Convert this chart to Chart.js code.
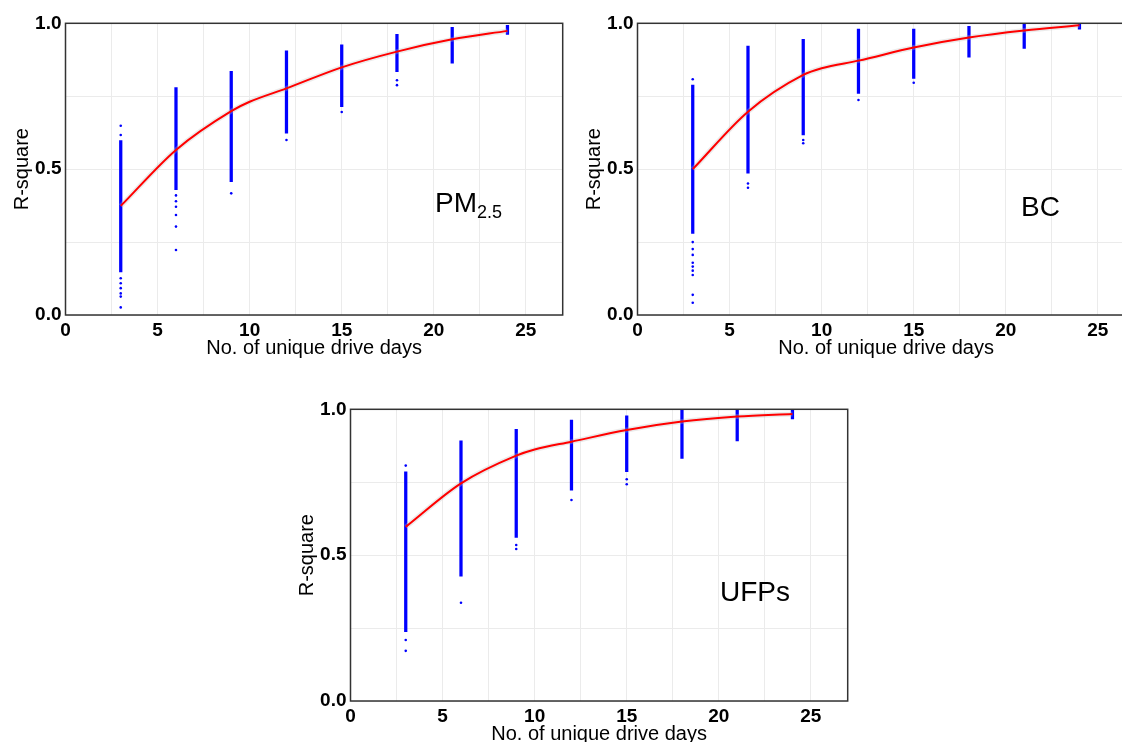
<!DOCTYPE html>
<html>
<head>
<meta charset="utf-8">
<script src="https://cdn.jsdelivr.net/npm/chart.js@4.4.1/dist/chart.umd.min.js"></script>
<style>
  html, body { margin: 0; padding: 0; background: #fff; width: 1122px; height: 742px; overflow: hidden; position: relative; }
  canvas { position: absolute; }
  .lbl { position: absolute; font-family: "Liberation Sans", Arial, sans-serif; font-size: 28px; line-height: 28px; color: #000; white-space: nowrap; }
  .lbl sub { font-size: 18px; line-height: 0; vertical-align: baseline; position: relative; top: 6px; }
</style>
</head>
<body>
<canvas id="cPM" width="580" height="370" style="left:0;top:0"></canvas>
<canvas id="cBC" width="580" height="370" style="left:572px;top:0"></canvas>
<canvas id="cUFP" width="580" height="370" style="left:285px;top:386px"></canvas>
<div class="lbl" style="left:435px;top:189px">PM<sub>2.5</sub></div>
<div class="lbl" style="left:1021px;top:193px">BC</div>
<div class="lbl" style="left:720px;top:578px">UFPs</div>
<script>
// days sampled (x of each blue column)
const dayCols = [3, 6, 9, 12, 15, 18, 21, 24];

// axis tick labels
const xTickVals = [0, 5, 10, 15, 20, 25];
const yTickVals = [0, 0.5, 1];
const yTickText = ['0.0', '0.5', '1.0'];

// PM2.5 : dense part of each column, stray points, fitted curve
const pmHigh = [0.598, 0.780, 0.835, 0.906, 0.926, 0.962, 0.986, 0.993];
const pmLow  = [0.148, 0.430, 0.457, 0.623, 0.714, 0.834, 0.863, 0.962];
const pmOut  = [[3, 0.649], [3, 0.617], [3, 0.126], [3, 0.109], [3, 0.092], [3, 0.074], [3, 0.063], [3, 0.026],
                [6, 0.410], [6, 0.390], [6, 0.371], [6, 0.343], [6, 0.303], [6, 0.223],
                [9, 0.417], [12, 0.600], [15, 0.696], [18, 0.805], [18, 0.788]];
const pmFitX = [3, 6, 9, 10, 12, 15, 18, 21, 24];
const pmFitY = [0.374, 0.566, 0.699, 0.731, 0.777, 0.849, 0.903, 0.945, 0.974];

// BC
const bcHigh = [0.788, 0.922, 0.945, 0.980, 0.980, 0.990, 1.000, 1.000];
const bcLow  = [0.280, 0.486, 0.617, 0.760, 0.811, 0.884, 0.914, 0.980];
const bcOut  = [[3, 0.808], [3, 0.250], [3, 0.226], [3, 0.206], [3, 0.179], [3, 0.166], [3, 0.152], [3, 0.137],
                [3, 0.069], [3, 0.042], [6, 0.451], [6, 0.436], [9, 0.600], [9, 0.589], [12, 0.737], [15, 0.796]];
const bcFitX = [3, 6, 9, 10, 12, 15, 18, 21, 24];
const bcFitY = [0.500, 0.697, 0.823, 0.846, 0.872, 0.917, 0.951, 0.975, 0.993];

// UFPs
const ufpHigh = [0.786, 0.892, 0.931, 0.963, 0.978, 0.998, 0.998, 0.998];
const ufpLow  = [0.238, 0.428, 0.561, 0.723, 0.786, 0.832, 0.892, 0.967];
const ufpOut  = [[3, 0.807], [3, 0.209], [3, 0.172], [6, 0.337], [9, 0.535], [9, 0.521],
                 [12, 0.689], [15, 0.760], [15, 0.743]];
const ufpFitX = [3, 6, 9, 10, 12, 15, 18, 21, 24];
const ufpFitY = [0.597, 0.746, 0.841, 0.862, 0.889, 0.929, 0.958, 0.975, 0.984];

const tickFont = { family: '"Liberation Sans", Arial, sans-serif', size: 19, weight: 'bold' };
const titleFont = { family: '"Liberation Sans", Arial, sans-serif', size: 20 };
const gridColor = '#ebebeb';

// dark frame round the plot area
const framePlugin = {
    id: 'frame',
    afterDraw(chart) {
        const { ctx, chartArea: a } = chart;
        ctx.save();
        ctx.strokeStyle = '#333';
        ctx.lineWidth = 1.5;
        ctx.strokeRect(a.left, a.top, a.right - a.left, a.bottom - a.top);
        ctx.restore();
    },
};

function makeChart(id, high, low, outliers, fitX, fitY) {
    const cols = dayCols.map((d, i) => ({ x: d, y: [low[i], high[i]] }));
    const pts = outliers.map((p) => ({ x: p[0], y: p[1] }));
    const fit = fitX.map((d, i) => ({ x: d, y: fitY[i] }));

    new Chart(document.getElementById(id), {
        type: 'bar',
        data: {
            datasets: [
                {
                    type: 'line',
                    data: fit,
                    borderColor: '#ff0000',
                    borderWidth: 2,
                    pointRadius: 0,
                    cubicInterpolationMode: 'monotone',
                    order: 0,
                },
                {
                    type: 'line',
                    data: fit,
                    borderColor: 'rgba(190,190,190,0.3)',
                    borderWidth: 5,
                    pointRadius: 0,
                    cubicInterpolationMode: 'monotone',
                    order: 1,
                },
                {
                    type: 'bar',
                    data: cols,
                    backgroundColor: '#0000ff',
                    barThickness: 2.6,
                    borderSkipped: false,
                    order: 2,
                },
                {
                    type: 'scatter',
                    data: pts,
                    pointRadius: 1.3,
                    pointBackgroundColor: '#0000ff',
                    pointBorderWidth: 0,
                    order: 2,
                },
            ],
        },
        options: {
            responsive: false,
            animation: false,
            events: [],
            layout: { padding: { left: 0, top: 23.3, right: 17.3, bottom: 10 } },
            plugins: { legend: { display: false }, tooltip: { enabled: false } },
            scales: {
                x: {
                    type: 'linear',
                    min: 0,
                    max: 27,
                    offset: false,
                    grid: { color: gridColor, drawTicks: false, offset: false },
                    border: { display: false },
                    ticks: {
                        stepSize: 2.5,
                        includeBounds: false,
                        autoSkip: false,
                        maxRotation: 0,
                        padding: 4,
                        color: '#000',
                        font: tickFont,
                        callback: (v) => (xTickVals.includes(v) ? String(v) : ''),
                    },
                    title: {
                        display: true,
                        text: 'No. of unique drive days',
                        color: '#000',
                        font: titleFont,
                        padding: { top: 0, bottom: 0 },
                    },
                    afterFit: (s) => { s.height = 45; },
                },
                y: {
                    type: 'linear',
                    min: 0,
                    max: 1,
                    grid: { color: gridColor, drawTicks: false },
                    border: { display: false },
                    ticks: {
                        stepSize: 0.25,
                        autoSkip: false,
                        padding: 4,
                        color: '#000',
                        font: tickFont,
                        callback: (v) => {
                            const k = yTickVals.indexOf(v);
                            return k < 0 ? '' : yTickText[k];
                        },
                    },
                    title: {
                        display: true,
                        text: 'R-square',
                        color: '#000',
                        font: titleFont,
                        padding: { top: 10, bottom: 0 },
                    },
                    afterFit: (s) => { s.width = 65.5; },
                },
            },
        },
        plugins: [framePlugin],
    });
}

makeChart('cPM', pmHigh, pmLow, pmOut, pmFitX, pmFitY);
makeChart('cBC', bcHigh, bcLow, bcOut, bcFitX, bcFitY);
makeChart('cUFP', ufpHigh, ufpLow, ufpOut, ufpFitX, ufpFitY);
</script>
</body>
</html>
